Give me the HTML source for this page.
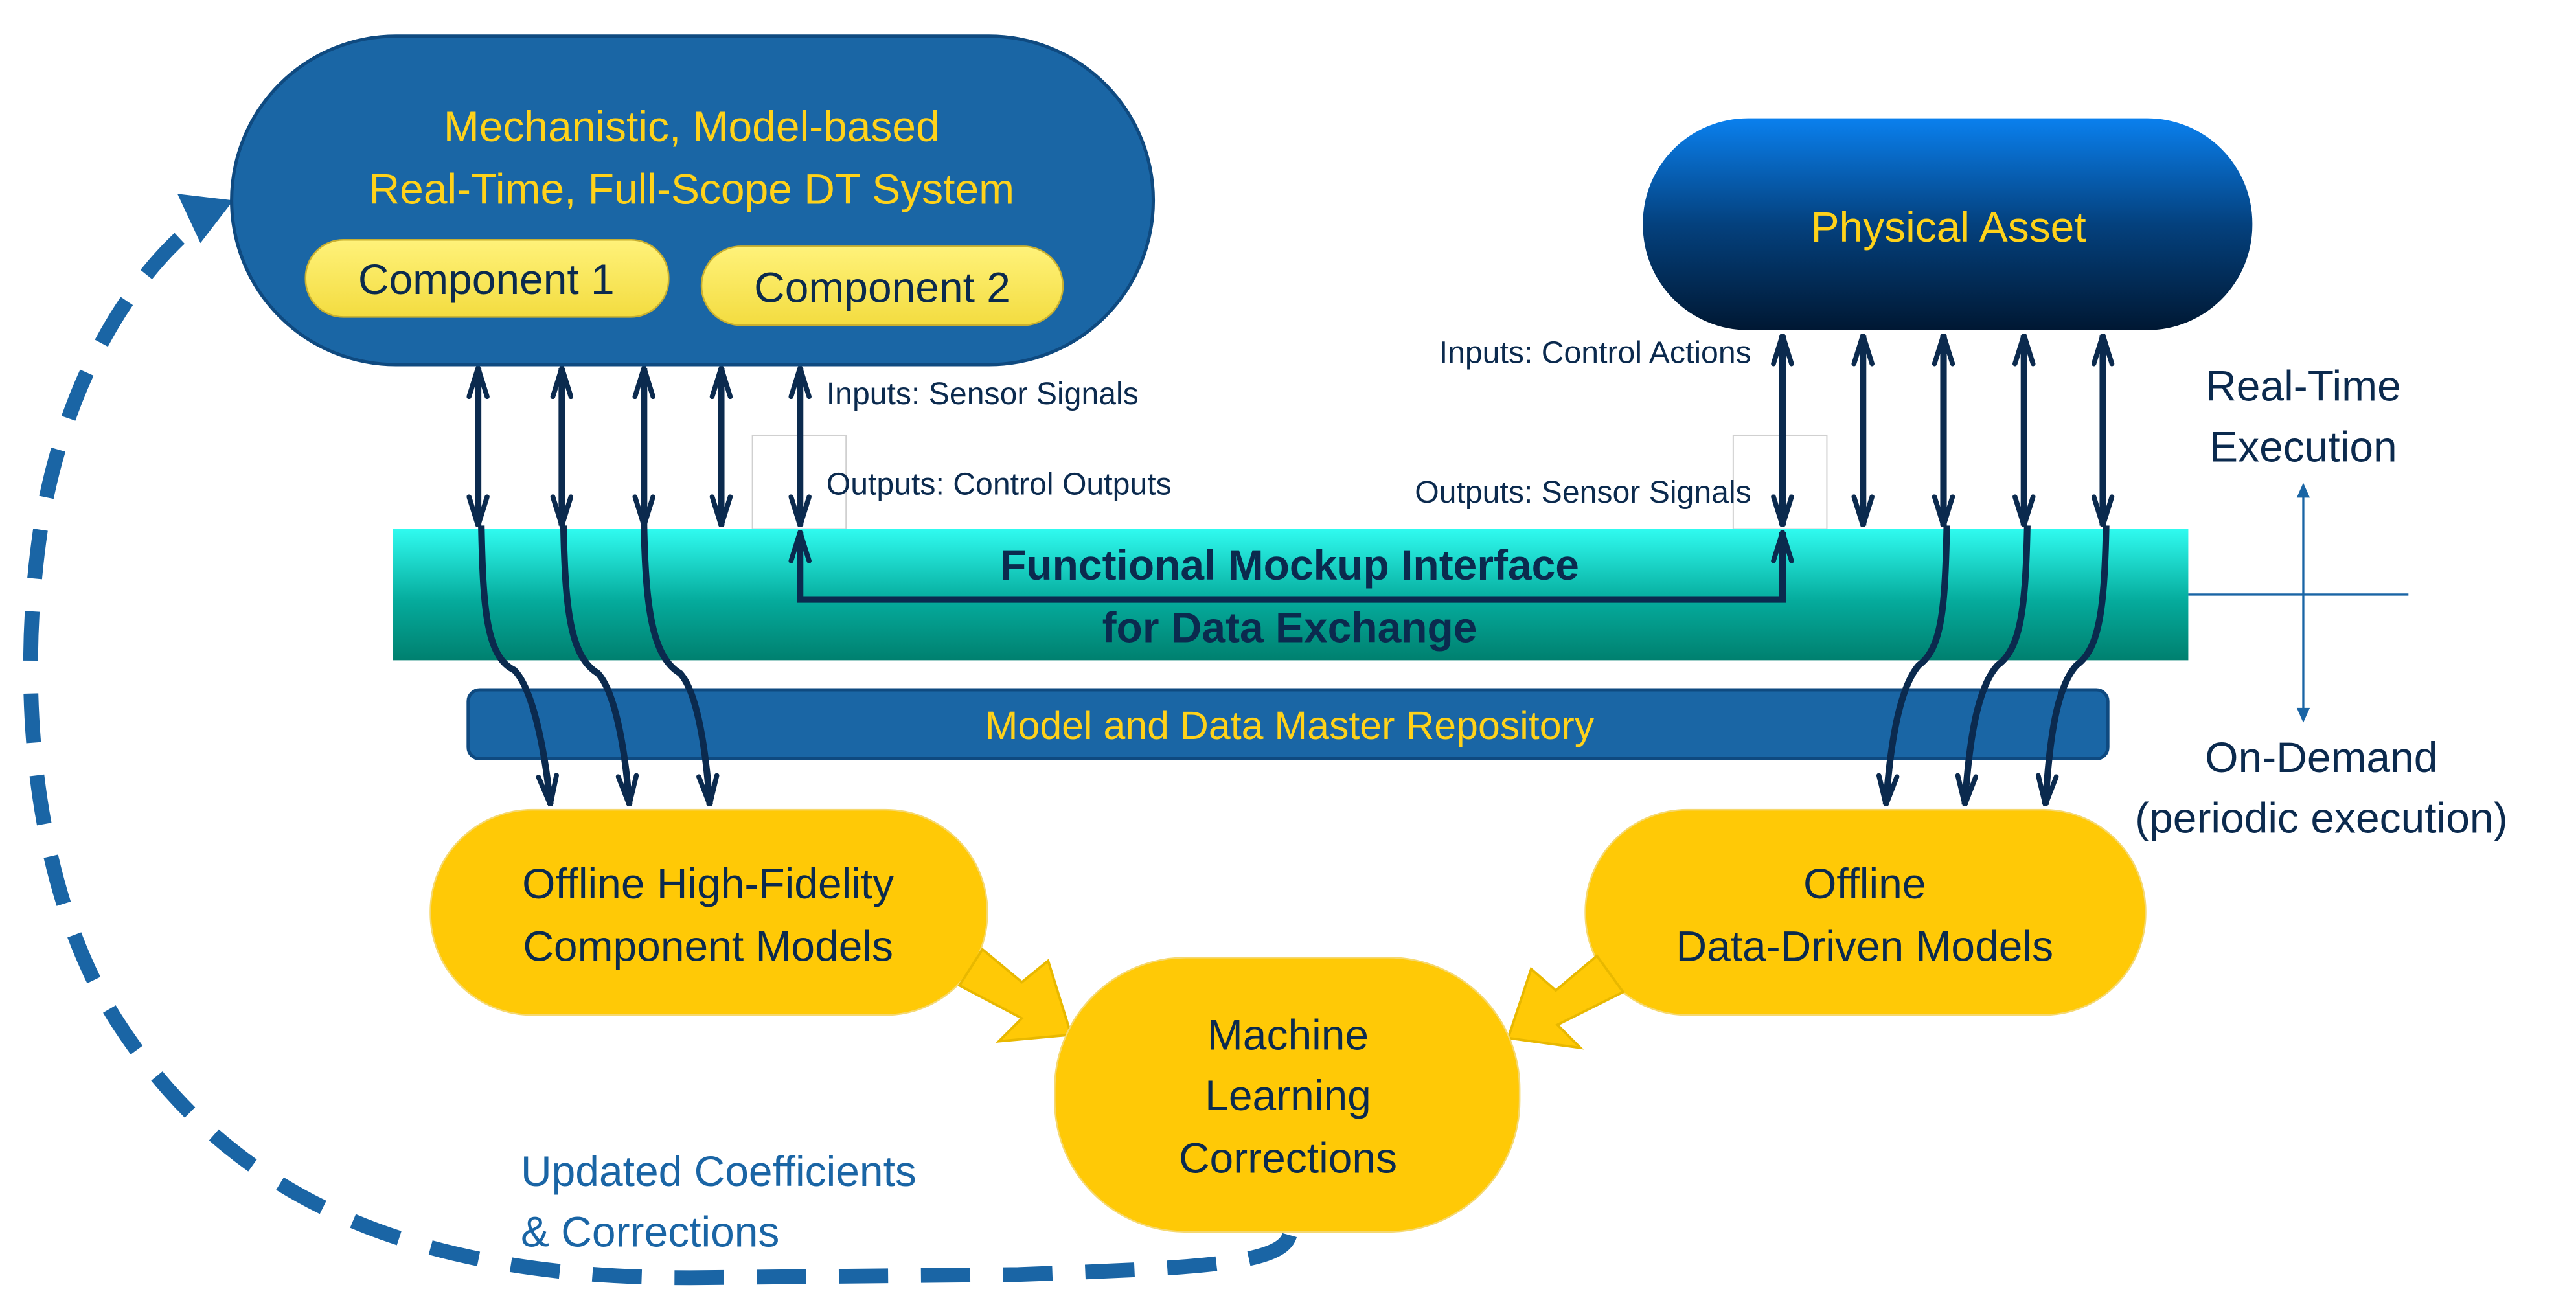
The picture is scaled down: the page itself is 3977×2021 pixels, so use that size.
<!DOCTYPE html>
<html><head><meta charset="utf-8"><style>
html,body{margin:0;padding:0;background:#fff;}
svg{display:block;}
text{font-family:"Liberation Sans Narrow","Liberation Sans",sans-serif;}
</style></head><body>
<svg width="3977" height="2021" viewBox="0 0 1568 797" preserveAspectRatio="none" xmlns="http://www.w3.org/2000/svg">
<defs>
<linearGradient id="pa" x1="0" y1="0" x2="0" y2="1"><stop offset="0" stop-color="#0a80ee"/><stop offset="0.5" stop-color="#04417e"/><stop offset="1" stop-color="#001833"/></linearGradient>
<linearGradient id="fmi" x1="0" y1="0" x2="0" y2="1"><stop offset="0" stop-color="#30fbf0"/><stop offset="0.55" stop-color="#05ab9c"/><stop offset="1" stop-color="#00806f"/></linearGradient>
<linearGradient id="cmp" x1="0" y1="0" x2="0" y2="1"><stop offset="0" stop-color="#fff27a"/><stop offset="1" stop-color="#f3dc40"/></linearGradient>
<marker id="ah" viewBox="0 0 20 14" refX="19" refY="7" markerWidth="20" markerHeight="14" markerUnits="userSpaceOnUse" orient="auto-start-reverse">
<path d="M1.5,1.5 L19,7 L1.5,12.5" fill="none" stroke="#0b2a4e" stroke-width="3" stroke-linecap="round" stroke-linejoin="round"/></marker>
</defs>

<path d="M785,752 C780,770 730,772 620,776 L420,778 C250,778 140,730 70,620 C20,540 10,420 25,320 C40,230 80,170 115,140" fill="none" stroke="#1a65a5" stroke-width="9" stroke-dasharray="30,20"/>
<polygon points="108,118 142,122 122,148" fill="#1a65a5"/>

<rect x="141" y="22" width="561" height="200" rx="100" ry="100" fill="#1a66a5" stroke="#0f4a80" stroke-width="2"/>
<text x="421" y="86" font-size="26" fill="#ffd21a" text-anchor="middle">Mechanistic, Model-based</text>
<text x="421" y="124" font-size="26" fill="#ffd21a" text-anchor="middle">Real-Time, Full-Scope DT System</text>
<rect x="186" y="146" width="221" height="47" rx="23" fill="url(#cmp)" stroke="#c9b030" stroke-width="1"/>
<text x="296" y="179" font-size="26" fill="#0b2a4e" text-anchor="middle">Component 1</text>
<rect x="427" y="150" width="220" height="48" rx="24" fill="url(#cmp)" stroke="#c9b030" stroke-width="1"/>
<text x="537" y="184" font-size="26" fill="#0b2a4e" text-anchor="middle">Component 2</text>

<rect x="1000" y="72" width="371" height="129" rx="64" fill="url(#pa)"/>
<text x="1186" y="147" font-size="26" fill="#ffd21a" text-anchor="middle">Physical Asset</text>

<rect x="458" y="265" width="57" height="57" fill="none" stroke="#d0d0d0" stroke-width="0.8"/>
<rect x="1055" y="265" width="57" height="57" fill="none" stroke="#d0d0d0" stroke-width="0.8"/>

<rect x="239" y="322" width="1093" height="80" fill="url(#fmi)"/>
<text x="785" y="353" font-size="26" font-weight="bold" fill="#0b2a4e" text-anchor="middle">Functional Mockup Interface</text>
<text x="785" y="391" font-size="26" font-weight="bold" fill="#0b2a4e" text-anchor="middle">for Data Exchange</text>

<rect x="285" y="420" width="998" height="42" rx="7" fill="#1a66a5" stroke="#0f4a80" stroke-width="2"/>
<text x="785" y="450" font-size="24" fill="#ffd21a" text-anchor="middle">Model and Data Master Repository</text>

<g stroke="#0b2a4e" stroke-width="4" fill="none">
<line x1="291" y1="224" x2="291" y2="320" marker-start="url(#ah)" marker-end="url(#ah)"/>
<line x1="342" y1="224" x2="342" y2="320" marker-start="url(#ah)" marker-end="url(#ah)"/>
<line x1="392" y1="224" x2="392" y2="320" marker-start="url(#ah)" marker-end="url(#ah)"/>
<line x1="439" y1="224" x2="439" y2="320" marker-start="url(#ah)" marker-end="url(#ah)"/>
<line x1="487" y1="224" x2="487" y2="320" marker-start="url(#ah)" marker-end="url(#ah)"/>
<line x1="1085" y1="204" x2="1085" y2="320" marker-start="url(#ah)" marker-end="url(#ah)"/>
<line x1="1134" y1="204" x2="1134" y2="320" marker-start="url(#ah)" marker-end="url(#ah)"/>
<line x1="1183" y1="204" x2="1183" y2="320" marker-start="url(#ah)" marker-end="url(#ah)"/>
<line x1="1232" y1="204" x2="1232" y2="320" marker-start="url(#ah)" marker-end="url(#ah)"/>
<line x1="1280" y1="204" x2="1280" y2="320" marker-start="url(#ah)" marker-end="url(#ah)"/>
<path d="M487,324 L487,365 L1085,365 L1085,324" marker-start="url(#ah)" marker-end="url(#ah)"/>
<path d="M293,320 C294,370 296,400 313,408 C325,420 332,460 335,490" marker-end="url(#ah)"/>
<path d="M343,320 C344,370 347,400 364,410 C375,422 381,460 383,490" marker-end="url(#ah)"/>
<path d="M392,320 C393,370 397,400 414,410 C425,422 430,460 432,490" marker-end="url(#ah)"/>
<path d="M1185,320 C1184,370 1182,395 1168,405 C1155,420 1150,460 1148,490" marker-end="url(#ah)"/>
<path d="M1234,320 C1233,370 1230,395 1216,405 C1202,420 1198,460 1196,490" marker-end="url(#ah)"/>
<path d="M1282,320 C1281,370 1278,395 1264,405 C1250,420 1247,460 1245,490" marker-end="url(#ah)"/>
</g>

<g font-size="19" fill="#0b2a4e">
<text x="503" y="246">Inputs: Sensor Signals</text>
<text x="503" y="301">Outputs: Control Outputs</text>
<text x="1066" y="221" text-anchor="end">Inputs: Control Actions</text>
<text x="1066" y="306" text-anchor="end">Outputs: Sensor Signals</text>
</g>

<line x1="1332" y1="362" x2="1466" y2="362" stroke="#1a65a5" stroke-width="1.3"/>
<line x1="1402" y1="300" x2="1402" y2="434" stroke="#1a65a5" stroke-width="1.3"/>
<polygon points="1402,294 1398,303 1406,303" fill="#1a65a5"/>
<polygon points="1402,440 1398,431 1406,431" fill="#1a65a5"/>
<g font-size="26" fill="#0b2a4e" text-anchor="middle">
<text x="1402" y="244">Real-Time</text>
<text x="1402" y="281">Execution</text>
<text x="1413" y="470">On-Demand</text>
<text x="1413" y="507">(periodic execution)</text>
</g>

<rect x="262" y="493" width="339" height="125" rx="62" fill="#ffc906" stroke="#f5d870" stroke-width="1"/>
<text x="431" y="547" font-size="26" fill="#0b2a4e" text-anchor="middle">Offline High-Fidelity</text>
<text x="431" y="585" font-size="26" fill="#0b2a4e" text-anchor="middle">Component Models</text>
<rect x="965" y="493" width="341" height="125" rx="62" fill="#ffc906" stroke="#f5d870" stroke-width="1"/>
<text x="1135" y="547" font-size="26" fill="#0b2a4e" text-anchor="middle">Offline</text>
<text x="1135" y="585" font-size="26" fill="#0b2a4e" text-anchor="middle">Data-Driven Models</text>

<polygon points="584,600 598,578 622,598 638,585 652,630 608,634 622,620" fill="#ffc906" stroke="#e8b800" stroke-width="1.5"/>
<polygon points="988,604 972,582 947,603 932,590 918,632 962,638 948,624" fill="#ffc906" stroke="#e8b800" stroke-width="1.5"/>

<rect x="642" y="583" width="283" height="167" rx="80" fill="#ffc906" stroke="#f5d870" stroke-width="1"/>
<g font-size="26" fill="#0b2a4e" text-anchor="middle">
<text x="784" y="639">Machine</text>
<text x="784" y="676">Learning</text>
<text x="784" y="714">Corrections</text>
</g>

<text x="317" y="722" font-size="26" fill="#1a65a5">Updated Coefficients</text>
<text x="317" y="759" font-size="26" fill="#1a65a5">&amp; Corrections</text>
</svg>
</body></html>
